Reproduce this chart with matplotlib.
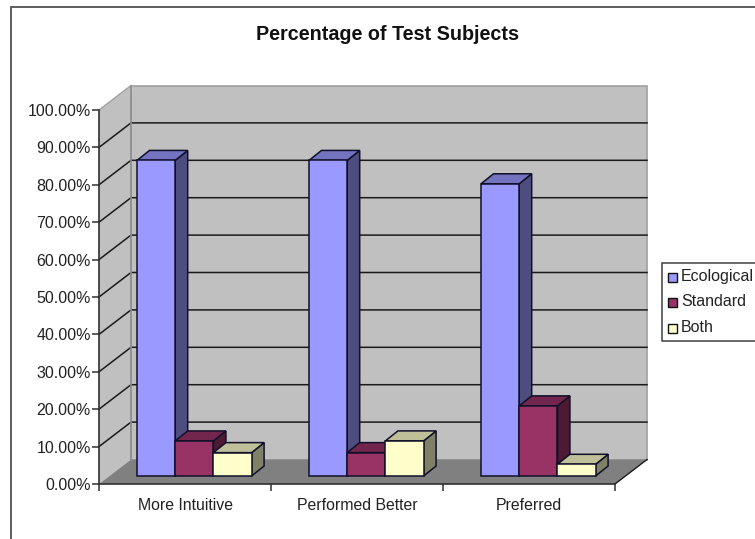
import matplotlib
matplotlib.use('Agg')
from matplotlib import pyplot as plt
from matplotlib.patches import Polygon, Rectangle

plt.rcParams['font.family'] = ['Liberation Sans', 'DejaVu Sans']

W, H = 755, 539

categories = ['More Intuitive', 'Performed Better', 'Preferred']
series_names = ['Ecological', 'Standard', 'Both']
ecological = [84.38, 84.38, 78.13]
standard = [9.38, 6.25, 18.75]
both = [6.25, 9.38, 3.13]
y_ticks = [0, 10, 20, 30, 40, 50, 60, 70, 80, 90, 100]

face_colors = ['#9999FF', '#993366', '#FFFFCC']
side_colors = ['#4D4D80', '#4D1A33', '#808066']
top_colors = ['#7373BF', '#73264D', '#BFBF99']

# plot area in pixels
left, right, bottom, top = 99, 615, 484, 110
px_x = 3 / (right - left)
px_y = 100 / (bottom - top)
# depth of the box and of the bars, in data units
depth_x, depth_y = 32 * px_x, 24.5 * px_y
bar_off_y = 8 * px_y
bar_dx, bar_dy = 12.5 * px_x, 10 * px_y
bar_w = 38.2 * px_x
gap = 38 * px_x

fig = plt.figure(figsize=(W / 100, H / 100), dpi=100)
fig.patches.append(Rectangle((10.5 / W, -0.01), 1.1, 1 - 6.5 / H + 0.01, transform=fig.transFigure,
                             facecolor='white', edgecolor='#505050', linewidth=1.3, zorder=-1))
ax = fig.add_axes([left / W, 1 - bottom / H, (right - left) / W, (bottom - top) / H])
ax.set_xlim(0, 3)
ax.set_ylim(0, 100)
ax.patch.set_visible(False)


def poly(points, color, edge='none', lw=0.0, z=1):
    ax.add_patch(Polygon(points, closed=True, facecolor=color, edgecolor=edge, linewidth=lw,
                         zorder=z, clip_on=False))


# walls and floor
poly([(0, 0), (depth_x, depth_y), (depth_x, 100 + depth_y), (0, 100)], '#C0C0C0', z=1)
poly([(depth_x, depth_y), (3 + depth_x, depth_y), (3 + depth_x, 100 + depth_y), (depth_x, 100 + depth_y)],
     '#C0C0C0', '#A0A0A0', 1.2, z=1)
poly([(0, 0), (3, 0), (3 + depth_x, depth_y), (depth_x, depth_y)], '#808080', z=2)

# gridlines run along the side wall and the back wall
for t in y_ticks[1:-1]:
    ax.plot([0, depth_x, 3 + depth_x], [t, t + depth_y, t + depth_y], color='#1A1A1A', lw=1.1, zorder=2,
            clip_on=False)
ax.plot([0, depth_x], [100, 100 + depth_y], color='#A0A0A0', lw=1.0, zorder=2, clip_on=False)
ax.plot([depth_x, depth_x], [depth_y, 100 + depth_y], color='#909090', lw=1.2, zorder=2, clip_on=False)
ax.plot([3, 3 + depth_x], [0, depth_y], color='#1A1A1A', lw=1.0, zorder=3, clip_on=False)

# bars, drawn back to front within each group
values = [ecological, standard, both]
for c in range(len(categories)):
    for s in range(3):
        v = values[s][c]
        x0 = c + gap + s * bar_w
        x1 = x0 + bar_w
        y0 = bar_off_y
        y1 = y0 + v
        z = 4 + c * 3 + s
        ax.bar(x0, v, bar_w, bottom=y0, align='edge', color=face_colors[s], edgecolor='#10102A', linewidth=1.1,
               zorder=z + 0.5, clip_on=False)
        poly([(x1, y0), (x1 + bar_dx, y0 + bar_dy), (x1 + bar_dx, y1 + bar_dy), (x1, y1)],
             side_colors[s], '#10102A', 1.1, z)
        poly([(x0, y1), (x0 + bar_dx, y1 + bar_dy), (x1 + bar_dx, y1 + bar_dy), (x1, y1)],
             top_colors[s], '#10102A', 1.1, z)

for name in ['top', 'right']:
    ax.spines[name].set_visible(False)
for name in ['left', 'bottom']:
    ax.spines[name].set_color('#303030')
    ax.spines[name].set_linewidth(1.2)
    ax.spines[name].set_zorder(20)

ax.set_yticks(y_ticks)
ax.set_yticklabels(['%.2f%%' % t for t in y_ticks], fontsize=11.5, color='#222222')
ax.set_xticks([0, 1, 2, 3])
ax.set_xticklabels([])
ax.set_xticks([0.5, 1.5, 2.5], labels=categories, minor=True, fontsize=11.4, color='#222222')
ax.tick_params(axis='x', which='minor', length=0, pad=10)
ax.tick_params(axis='x', which='major', length=5, width=1.1, color='#303030')
ax.tick_params(axis='y', length=5, width=1.1, color='#303030', pad=1)

fig.text(387 / W, 1 - 35 / H, 'Percentage of Test Subjects', fontsize=14.2, fontweight='bold', ha='center', va='center',
         color='#111111')

# legend box runs past the right edge of the figure
fig.patches.append(Rectangle((661.5 / W, 1 - 341 / H), 110 / W, 78 / H, transform=fig.transFigure,
                             facecolor='white', edgecolor='#404040', linewidth=1.1, zorder=5))
for name, color, y in zip(series_names, face_colors, [277, 302, 328]):
    fig.patches.append(Rectangle((668 / W, 1 - (y + 4.5) / H), 9 / W, 9 / H, transform=fig.transFigure,
                                 facecolor=color, edgecolor='#111111', linewidth=1.0, zorder=6))
    fig.text(681 / W, 1 - y / H, name, fontsize=11.5, va='center', ha='left', color='#222222', zorder=7)

fig.savefig('out.png', dpi=100)
